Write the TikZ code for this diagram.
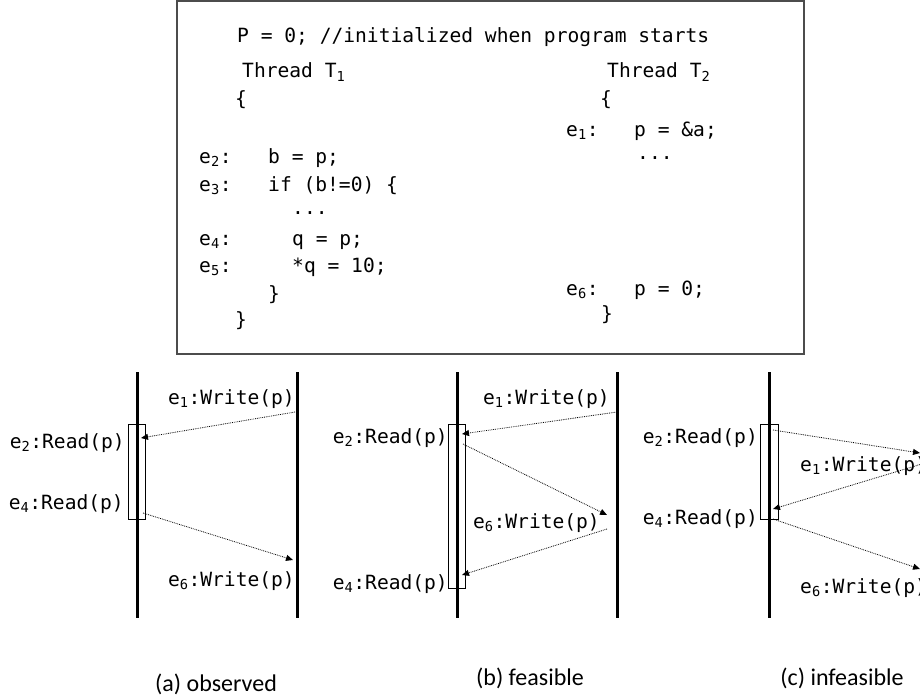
\documentclass[tikz,border=0pt]{standalone}
\usepackage{fontspec}
\setmainfont{Carlito}
\setmonofont{DejaVu Sans Mono}
\usetikzlibrary{arrows.meta}

\newcommand{\codesize}{\fontsize{19.6}{23}\selectfont}
\newcommand{\capsize}{\fontsize{24}{28}\selectfont}

\begin{document}
\begin{tikzpicture}[x=1pt, y=-1pt,
  code/.style={font=\ttfamily\codesize, anchor=base west, inner sep=0pt},
  ev/.style={font=\ttfamily\codesize, inner sep=0pt},
  thread/.style={line width=3pt},
  span/.style={draw, line width=0.8pt, minimum width=17pt, inner sep=0pt},
  msg/.style={densely dotted, line width=0.8pt, -{Triangle[length=7pt,width=6pt]}},
  caption/.style={font=\capsize}]
  \useasboundingbox (0,0) rectangle (920,698);
  \clip (0,0) rectangle (920,698);

  % Program text
  \node[draw=black!70, line width=2pt, minimum width=627pt, minimum height=353pt, inner sep=0pt] (codebox) at (490.5,177.5) {};
  \node[code] (init) at (237,43) {P = 0; //initialized when program starts};
  % thread T1
  \node[code] (thA) at (242,78) {Thread T\textsubscript{1}};
  \node[code] (brA) at (235,106) {\{};
  \node[code] (lb2) at (199,163) {e\textsubscript{2}:};
  \node[code] (st2) at (268,163) {b = p;};
  \node[code] (lb3) at (199,191) {e\textsubscript{3}:};
  \node[code] (st3) at (268,191) {if (b!=0) \{};
  \node[code] (dotA) at (292,214) {...};
  \node[code] (lb4) at (199,245) {e\textsubscript{4}:};
  \node[code] (st4) at (292,245) {q = p;};
  \node[code] (lb5) at (199,272) {e\textsubscript{5}:};
  \node[code] (st5) at (292,272) {*q = 10;};
  \node[code] (clA) at (268,300) {\}};
  \node[code] (endA) at (235,326) {\}};
  % thread T2
  \node[code] (thB) at (607,78) {Thread T\textsubscript{2}};
  \node[code] (brB) at (600,106) {\{};
  \node[code] (lb1) at (566,136) {e\textsubscript{1}:};
  \node[code] (st1) at (634,136) {p = \&a;};
  \node[code] (dotB) at (637,159) {...};
  \node[code] (lb6) at (566,295) {e\textsubscript{6}:};
  \node[code] (st6) at (634,295) {p = 0;};
  \node[code] (endB) at (601,320) {\}};

  % (a) observed
  \begin{scope}[shift={(137,0)}]
    \draw[thread] (0,372) -- (0,618);
    \draw[thread] (160,372) -- (160,618);
    \node[span, minimum height=95pt] (a-span) at (-0.5,471.5) {};
    \node[ev, anchor=base east] (a-e1) at (158,404) {e\textsubscript{1}:Write(p)};
    \node[ev, anchor=base east] (a-e2) at (-12,448) {e\textsubscript{2}:Read(p)};
    \node[ev, anchor=base east] (a-e4) at (-13,509) {e\textsubscript{4}:Read(p)};
    \node[ev, anchor=base east] (a-e6) at (158,586) {e\textsubscript{6}:Write(p)};
    \coordinate (a-w1) at (158,412);
    \coordinate (a-r2) at (4,438);
    \coordinate (a-r4) at (6,513);
    \coordinate (a-w6) at (156,560);
    \draw[msg] (a-w1) -- (a-r2);
    \draw[msg] (a-r4) -- (a-w6);
  \end{scope}

  % (b) feasible
  \begin{scope}[shift={(457,0)}]
    \draw[thread] (0,372) -- (0,618);
    \draw[thread] (160,372) -- (160,618);
    \node[span, minimum height=164pt] (b-span) at (-0.5,506) {};
    \node[ev, anchor=base east] (b-e1) at (153,404) {e\textsubscript{1}:Write(p)};
    \node[ev, anchor=base east] (b-e2) at (-9,443) {e\textsubscript{2}:Read(p)};
    \node[ev, anchor=base east] (b-e6) at (143,528) {e\textsubscript{6}:Write(p)};
    \node[ev, anchor=base east] (b-e4) at (-9,589) {e\textsubscript{4}:Read(p)};
    \coordinate (b-w1) at (160,412);
    \coordinate (b-r2) at (5,434);
    \coordinate (b-r2o) at (6,444);
    \coordinate (b-w6) at (150,515);
    \coordinate (b-w6o) at (150,529);
    \coordinate (b-r4) at (5,575);
    \draw[msg] (b-w1) -- (b-r2);
    \draw[msg] (b-r2o) -- (b-w6);
    \draw[msg] (b-w6o) -- (b-r4);
  \end{scope}

  % (c) infeasible
  \begin{scope}[shift={(769,0)}]
    \draw[thread] (0,372) -- (0,618);
    \draw[thread] (160,372) -- (160,618);
    \node[span, minimum width=18pt, minimum height=95pt] (c-span) at (0,471.5) {};
    \node[ev, anchor=base east] (c-e2) at (-11,443) {e\textsubscript{2}:Read(p)};
    \node[ev, anchor=base east] (c-e4) at (-11,524) {e\textsubscript{4}:Read(p)};
    \node[ev, anchor=base west] (c-e1) at (31,471) {e\textsubscript{1}:Write(p)};
    \node[ev, anchor=base west] (c-e6) at (31,593) {e\textsubscript{6}:Write(p)};
    \coordinate (c-r2) at (4,430);
    \coordinate (c-w1) at (151,453);
    \coordinate (c-w1o) at (156,463);
    \coordinate (c-r4) at (4,509);
    \coordinate (c-r4o) at (4,519);
    \coordinate (c-w6) at (151,569);
    \draw[msg] (c-r2) -- (c-w1);
    \draw[msg] (c-w1o) -- (c-r4);
    \draw[msg] (c-r4o) -- (c-w6);
  \end{scope}

  % captions
  \node[caption] (capA) at (216,684) {(a) observed};
  \node[caption] (capB) at (530,678) {(b) feasible};
  \node[caption] (capC) at (842,678) {(c) infeasible};
\end{tikzpicture}
\end{document}
